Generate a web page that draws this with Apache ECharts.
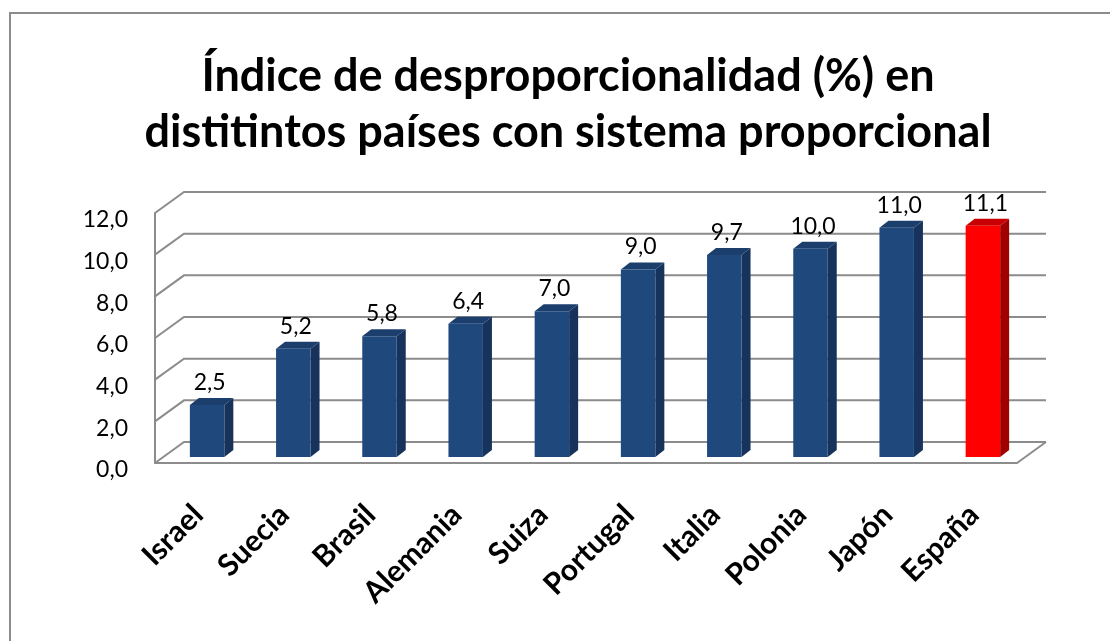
<!DOCTYPE html>
<html>
<head>
<meta charset="utf-8">
<script src="https://cdn.jsdelivr.net/npm/echarts@6/dist/echarts.min.js"></script>
<style>
  html, body { margin: 0; padding: 0; background: #fff; }
  #main { width: 1110px; height: 641px; }
</style>
</head>
<body>
<div id="main"></div>
<script>
var paises = ['Israel', 'Suecia', 'Brasil', 'Alemania', 'Suiza', 'Portugal', 'Italia', 'Polonia', 'Japón', 'España'];
var indice = [2.5, 5.2, 5.8, 6.4, 7.0, 9.0, 9.7, 10.0, 11.0, 11.1];
var destacado = 'España';
var yTicks = [0, 2, 4, 6, 8, 10, 12];

// perspectiva (pseudo 3D como Excel)
var WALL_DX = 29, WALL_DY = -21;
var BAR_DX = 9, BAR_DY = -6;
var SIDE_DX = 9, SIDE_DY = -7;

var azul = { front: '#1f497d', side: '#17325b', top: '#1b3e6c' };
var rojo = { front: '#ff0000', side: '#a00000', top: '#c80000' };

function fmt(v) { return v.toFixed(1).replace('.', ','); }

var myChart = echarts.init(document.getElementById('main'));

var option = {
  animation: false,
  backgroundColor: '#fff',
  title: {
    text: 'Índice de desproporcionalidad (%) en\ndistitintos países con sistema proporcional',
    left: 563,
    top: 43,
    textAlign: 'center',
    textStyle: {
      fontFamily: 'Lato',
      fontWeight: 'bold',
      fontSize: 45,
      lineHeight: 56,
      color: '#000'
    }
  },
  graphic: [{
    type: 'rect',
    shape: { x: 10, y: 13, width: 1120, height: 650 },
    style: { fill: 'none', stroke: '#8c8c8c', lineWidth: 2 },
    silent: true
  }],
  grid: { left: 155, right: 93, top: 213, bottom: 178 },
  xAxis: {
    type: 'category',
    data: paises,
    axisLine: { show: true, lineStyle: { color: '#8c8c8c', width: 2 } },
    axisTick: { show: false },
    axisLabel: {
      rotate: 45,
      margin: 47,
      interval: 0,
      fontFamily: 'Lato',
      fontWeight: 'bold',
      fontSize: 30,
      color: '#000'
    }
  },
  yAxis: {
    type: 'value',
    min: 0,
    max: 12,
    interval: 2,
    axisLine: { show: true, lineStyle: { color: '#8c8c8c', width: 2 } },
    axisTick: { show: false },
    splitLine: { show: false },
    axisLabel: {
      margin: 27,
      verticalAlign: 'top',
      lineHeight: 14,
      fontFamily: 'Lato',
      fontSize: 23,
      color: '#000',
      formatter: function (v) { return fmt(v); }
    }
  },
  series: [
    {
      // paredes: lineas de division del fondo y lateral
      type: 'custom',
      silent: true,
      data: yTicks.map(function (v) { return [0, v]; }),
      renderItem: function (params, api) {
        var cs = params.coordSys;
        var v = api.value(1);
        var y = api.coord([0, v])[1];
        var left = cs.x, right = cs.x + cs.width;
        var children = [{
          type: 'polyline',
          shape: { points: [[left, y], [left + WALL_DX, y + WALL_DY], [right + WALL_DX, y + WALL_DY]] },
          style: { fill: 'none', stroke: '#8c8c8c', lineWidth: 2 }
        }];
        if (v === 0) {
          children.push({
            type: 'polyline',
            shape: { points: [[right, y], [right + WALL_DX, y + WALL_DY]] },
            style: { fill: 'none', stroke: '#8c8c8c', lineWidth: 2 }
          });
        }
        return { type: 'group', children: children };
      },
      z: 1
    },
    {
      type: 'custom',
      data: indice.map(function (v, i) { return [i, v]; }),
      renderItem: function (params, api) {
        var i = api.value(0), v = api.value(1);
        var base = api.coord([i, 0]);
        var top = api.coord([i, v]);
        var w = api.size([1, 0])[0] * 0.4;
        var x0 = base[0] + BAR_DX - w / 2, x1 = x0 + w;
        var yb = base[1] + BAR_DY, yt = top[1] + BAR_DY;
        var c = paises[i] === destacado ? rojo : azul;
        return {
          type: 'group',
          children: [
            { type: 'polygon',
              shape: { points: [[x1, yt], [x1 + SIDE_DX, yt + SIDE_DY], [x1 + SIDE_DX, yb + SIDE_DY], [x1, yb]] },
              style: { fill: c.side } },
            { type: 'polygon',
              shape: { points: [[x0, yt], [x1, yt], [x1 + SIDE_DX, yt + SIDE_DY], [x0 + SIDE_DX, yt + SIDE_DY]] },
              style: { fill: c.top } },
            { type: 'rect',
              shape: { x: x0, y: yt, width: w, height: yb - yt },
              style: { fill: c.front } },
            { type: 'text',
              x: (x0 + x1 + SIDE_DX) / 2 - 2, y: yt + SIDE_DY - 4,
              style: {
                text: fmt(v), fill: '#000',
                font: '23px Lato', align: 'center', verticalAlign: 'bottom'
              } }
          ]
        };
      },
      z: 2
    }
  ]
};

myChart.setOption(option);
</script>
</body>
</html>
